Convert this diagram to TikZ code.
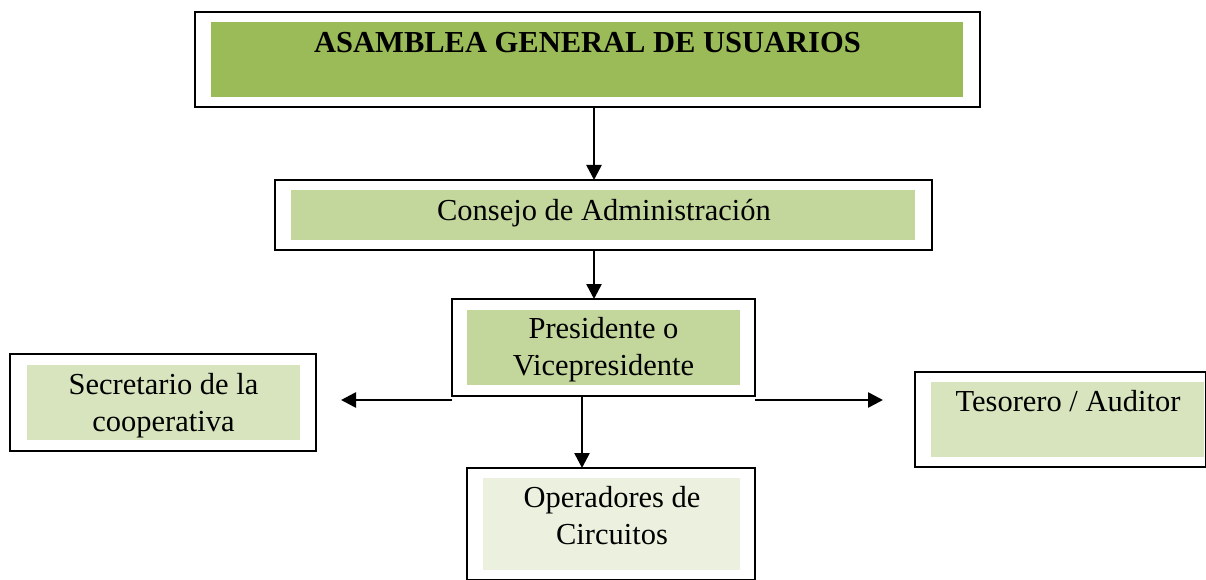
\documentclass[tikz,border=0pt]{standalone}
\usepackage{fontspec}
\setmainfont{Liberation Serif}
\usetikzlibrary{arrows.meta}
\definecolor{gA}{HTML}{9BBB59}
\definecolor{gB}{HTML}{C3D69B}
\definecolor{gC}{HTML}{D7E4BD}
\definecolor{gD}{HTML}{EBF1DE}
\tikzset{
  outerbox/.style={draw=black, line width=2.2pt, inner sep=0pt, outer sep=0pt, fill=none},
  innerbox/.style={draw=none, inner sep=0pt, outer sep=0pt},
  lbl/.style={inner sep=0pt, anchor=base, font=\fontsize{30.5}{37}\selectfont},
  arr/.style={line width=2.6pt, -{Triangle[length=15pt,width=15pt]}}
}
\begin{document}
\begin{tikzpicture}[x=1pt,y=-1pt]
\useasboundingbox (0,0) rectangle (1206,580);
% inner fills
\node[innerbox, fill=gA, minimum width=752pt, minimum height=75pt] (asamfill) at (587,59.5) {};
\node[innerbox, fill=gB, minimum width=624pt, minimum height=50pt] (consfill) at (603,215) {};
\node[innerbox, fill=gB, minimum width=273pt, minimum height=75pt] (presfill) at (603.5,347.5) {};
\node[innerbox, fill=gC, minimum width=273pt, minimum height=75pt] (secfill) at (163.5,402.5) {};
\node[innerbox, fill=gC, minimum width=273pt, minimum height=75pt] (tesfill) at (1067.5,419.5) {};
\node[innerbox, fill=gD, minimum width=257pt, minimum height=92pt] (operfill) at (611.5,524) {};
% outer borders
\node[outerbox, line width=2.8pt, minimum width=785pt, minimum height=95pt] (asam) at (587.5,59.5) {};
\node[outerbox, minimum width=657pt, minimum height=70pt] (cons) at (603.5,215) {};
\node[outerbox, minimum width=303pt, minimum height=97pt] (pres) at (603.5,347.5) {};
\node[outerbox, minimum width=306pt, minimum height=97pt] (sec) at (163,402.5) {};
\node[outerbox, minimum width=291pt, minimum height=95pt] (tes) at (1060.5,419.5) {};
\node[outerbox, minimum width=288pt, minimum height=112pt] (oper) at (611,524) {};
% texts
\node[lbl, font=\fontsize{30.5}{37}\selectfont\bfseries] (tasam) at (587.5,53) {ASAMBLEA GENERAL DE USUARIOS};
\node[lbl] (tcons) at (604,220) {Consejo de Administración};
\node[lbl] (tpres1) at (603.5,338) {Presidente o};
\node[lbl] (tpres2) at (603.5,375) {Vicepresidente};
\node[lbl] (tsec1) at (163.5,394) {Secretario de la};
\node[lbl] (tsec2) at (163.5,431) {cooperativa};
\node[lbl] (ttes) at (1068,411) {Tesorero / Auditor};
\node[lbl] (toper1) at (612,507) {Operadores de};
\node[lbl] (toper2) at (612,544) {Circuitos};
% connector end points
\coordinate (a1) at (594,0);
\coordinate (a2) at (582,0);
\coordinate (lstart) at (452,400);
\coordinate (lend) at (341,400);
\coordinate (rstart) at (755,400);
\coordinate (rend) at (883,400);
% connectors
\draw[arr] (asam.south -| a1) -- (cons.north -| a1);
\draw[arr] (cons.south -| a1) -- (pres.north -| a1);
\draw[arr] (pres.south -| a2) -- (oper.north -| a2);
\draw[arr] (lstart) -- (lend);
\draw[arr] (rstart) -- (rend);
\end{tikzpicture}
\end{document}
